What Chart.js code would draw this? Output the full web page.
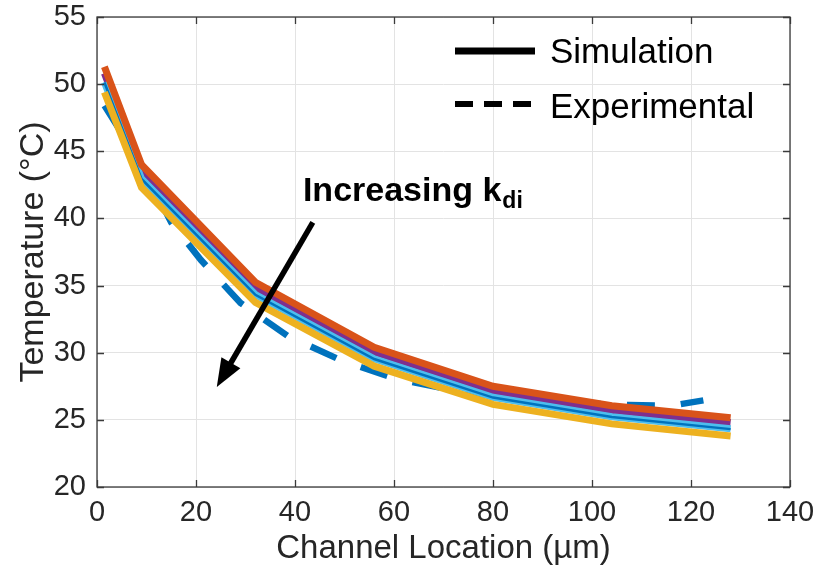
<!DOCTYPE html>
<html>
<head>
<meta charset="utf-8">
<title>Channel temperature</title>
<script src="https://cdn.jsdelivr.net/npm/chart.js@4.4.0/dist/chart.umd.min.js"></script>
<style>
  html, body { margin: 0; padding: 0; background: #fff; }
  #wrap { width: 814px; height: 583px; }
</style>
</head>
<body>
<div id="wrap"><canvas id="temp-chart" width="814" height="583"></canvas></div>
<script>
// simulation, one curve per k_di value (x in um, temperature in C)
const simX = [1.5, 9, 32, 56, 80, 104, 128];
const simOrange = [51.3, 44.0, 35.25, 30.4, 27.5, 26.05, 25.15];
const simPurple = [50.82, 43.57, 34.87, 30.05, 27.16, 25.71, 24.81];
const simLightBlue = [50.14, 42.96, 34.33, 29.55, 26.68, 25.23, 24.33];
const simBlue = [50.12, 42.94, 34.31, 29.53, 26.66, 25.21, 24.31];
const simYellow = [49.4, 42.3, 33.75, 29.0, 26.15, 24.7, 23.8];

// measured
const expX = [1.5, 9, 15, 21, 29, 38.5, 49.5, 60.5, 72, 84, 96, 107.5, 116, 122.5];
const expTemp = [48.4, 44.0, 39.7, 36.9, 33.7, 31.25, 29.4, 28.05, 27.2, 26.6, 26.25, 26.1, 26.05, 26.45];

const xTicks = [0, 20, 40, 60, 80, 100, 120, 140];
const yTicks = [20, 25, 30, 35, 40, 45, 50, 55];

const family = "'Liberation Sans', Arial, Helvetica, sans-serif";
const textColor = '#262626';

const toPoints = (xs, ys) => xs.map((x, i) => ({ x: x, y: ys[i] }));

const simLine = (values, color, width, order) => ({
    data: toPoints(simX, values),
    borderColor: color,
    borderWidth: width,
    showLine: true,
    pointRadius: 0,
    borderCapStyle: 'butt',
    borderJoinStyle: 'miter',
    order: order
});

// keep the plot box where the layout padding puts it
const noScalePadding = s => {
    s.paddingTop = 0;
    s.paddingBottom = 0;
    s.paddingLeft = 0;
    s.paddingRight = 0;
};

////
///////////////////// box + inward ticks /////////////////////
////

const axesBox = {
    id: 'axesBox',
    afterDatasetsDraw(chart) {
        const { ctx, chartArea: a, scales } = chart;
        const len = 7;
        ctx.save();
        ctx.strokeStyle = '#3a3a3a';
        ctx.lineWidth = 1.3;
        ctx.beginPath();
        xTicks.forEach(v => {
            const px = Math.round(scales.x.getPixelForValue(v)) + 0.5;
            ctx.moveTo(px, a.bottom); ctx.lineTo(px, a.bottom - len);
            ctx.moveTo(px, a.top); ctx.lineTo(px, a.top + len);
        });
        yTicks.forEach(v => {
            const py = Math.round(scales.y.getPixelForValue(v)) + 0.5;
            ctx.moveTo(a.left, py); ctx.lineTo(a.left + len, py);
            ctx.moveTo(a.right, py); ctx.lineTo(a.right - len, py);
        });
        ctx.stroke();
        ctx.strokeRect(a.left, a.top, a.right - a.left, a.bottom - a.top);
        ctx.restore();
    }
};

////
///////////////////// legend + annotation /////////////////////
////

const extras = {
    id: 'extras',
    afterDraw(chart) {
        const { ctx, chartArea: a, scales } = chart;
        ctx.save();

        // legend (black keys, no box)
        const keyX = a.right - 335;
        ctx.strokeStyle = '#000';
        ctx.lineWidth = 7;
        ctx.beginPath();
        ctx.moveTo(keyX, a.top + 34);
        ctx.lineTo(keyX + 80, a.top + 34);
        ctx.stroke();
        ctx.lineWidth = 6;
        ctx.setLineDash([18, 11]);
        ctx.beginPath();
        ctx.moveTo(keyX, a.top + 87);
        ctx.lineTo(keyX + 80, a.top + 87);
        ctx.stroke();
        ctx.setLineDash([]);

        ctx.fillStyle = '#000';
        ctx.font = '35px ' + family;
        ctx.textBaseline = 'alphabetic';
        ctx.fillText('Simulation', a.right - 240, a.top + 46);
        ctx.fillText('Experimental', a.right - 240, a.top + 101);

        // arrow
        const x0 = scales.x.getPixelForValue(43.6), y0 = scales.y.getPixelForValue(39.7);
        const x1 = scales.x.getPixelForValue(24.2), y1 = scales.y.getPixelForValue(27.45);
        const ang = Math.atan2(y1 - y0, x1 - x0);
        const headLen = 28, headHalf = 11;
        const bx = x1 - headLen * Math.cos(ang), by = y1 - headLen * Math.sin(ang);
        ctx.strokeStyle = '#000';
        ctx.lineWidth = 5.5;
        ctx.beginPath();
        ctx.moveTo(x0, y0);
        ctx.lineTo(bx + 2 * Math.cos(ang), by + 2 * Math.sin(ang));
        ctx.stroke();
        ctx.beginPath();
        ctx.moveTo(x1, y1);
        ctx.lineTo(bx + headHalf * Math.sin(ang), by - headHalf * Math.cos(ang));
        ctx.lineTo(bx - headHalf * Math.sin(ang), by + headHalf * Math.cos(ang));
        ctx.closePath();
        ctx.fill();

        // label with subscript
        const tx = scales.x.getPixelForValue(41.6), ty = scales.y.getPixelForValue(41.3);
        ctx.font = 'bold 34px ' + family;
        ctx.fillText('Increasing k', tx, ty);
        const w = ctx.measureText('Increasing k').width;
        ctx.font = 'bold 23px ' + family;
        ctx.fillText('di', tx + w + 1, ty + 7);

        ctx.restore();
    }
};

////
///////////////////// chart /////////////////////
////

const canvas = document.getElementById('temp-chart');

const tempChart = new Chart(canvas, {
    type: 'scatter',
    data: {
        datasets: [
            simLine(simYellow, '#EDB120', 7, 1),
            simLine(simOrange, '#D95319', 7, 2),
            simLine(simBlue, '#0072BD', 2.5, 3),
            simLine(simLightBlue, '#4DBEEE', 7, 4),
            simLine(simPurple, '#7E2F8E', 7, 5),
            {
                data: toPoints(expX, expTemp),
                borderColor: '#0072BD',
                borderWidth: 6.5,
                borderDash: [28, 26],
                borderCapStyle: 'butt',
                showLine: true,
                pointRadius: 0,
                order: 6
            }
        ]
    },
    options: {
        responsive: false,
        devicePixelRatio: 1,
        animation: false,
        layout: { padding: { top: 17, right: 24, left: 0, bottom: 0 } },
        plugins: {
            legend: { display: false },
            tooltip: { enabled: false }
        },
        scales: {
            x: {
                type: 'linear',
                min: 0,
                max: 140,
                afterBuildTicks: s => { s.ticks = xTicks.map(v => ({ value: v })); },
                afterFit: s => { s.height = 96; noScalePadding(s); },
                grid: { color: '#e3e3e3', drawTicks: false },
                border: { display: false },
                ticks: {
                    font: { size: 29, family: family },
                    color: textColor,
                    padding: 9,
                    maxRotation: 0,
                    autoSkip: false
                },
                title: {
                    display: true,
                    text: 'Channel Location (µm)',
                    font: { size: 33, family: family },
                    color: textColor,
                    padding: { top: 0, bottom: 14 }
                }
            },
            y: {
                type: 'linear',
                min: 20,
                max: 55,
                afterBuildTicks: s => { s.ticks = yTicks.map(v => ({ value: v })); },
                afterFit: s => { s.width = 97; noScalePadding(s); },
                grid: { color: '#e3e3e3', drawTicks: false },
                border: { display: false },
                ticks: {
                    font: { size: 29, family: family },
                    color: textColor,
                    padding: 11,
                    autoSkip: false
                },
                title: {
                    display: true,
                    text: 'Temperature (°C)',
                    font: { size: 34, family: family },
                    color: textColor,
                    padding: { top: 13, bottom: 0 }
                }
            }
        }
    },
    plugins: [axesBox, extras]
});
</script>
</body>
</html>
